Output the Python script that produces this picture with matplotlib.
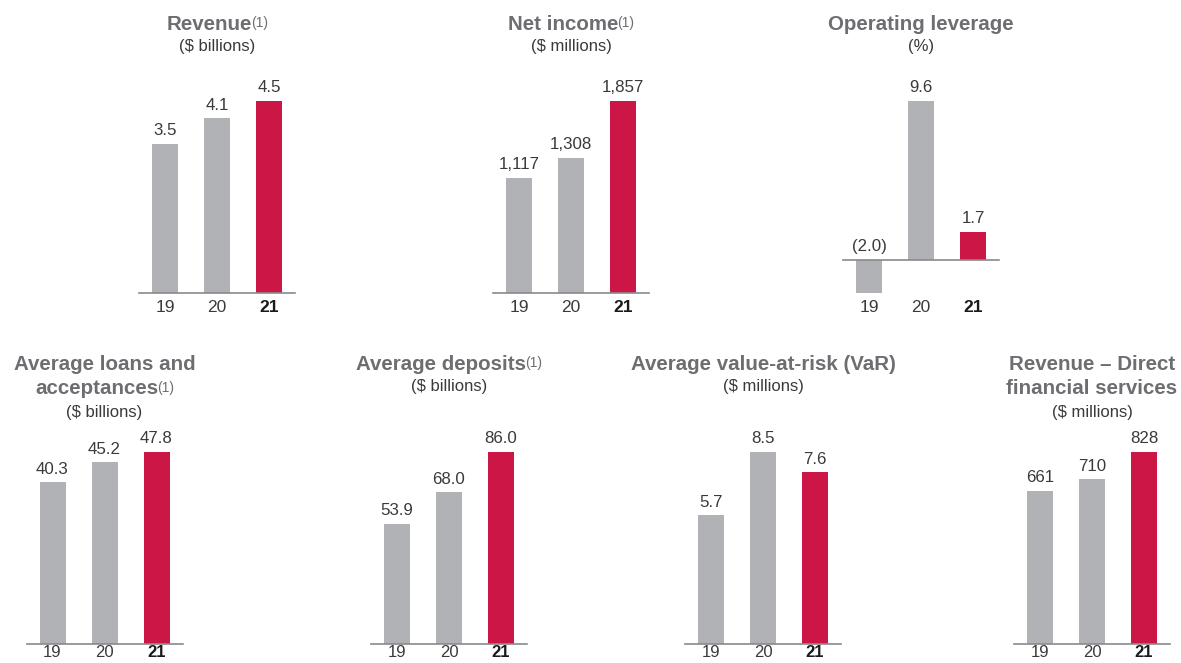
import matplotlib
matplotlib.use("Agg")
import matplotlib.pyplot as plt

plt.rcParams['font.family'] = ['Liberation Sans', 'DejaVu Sans']

W, H = 1181, 663

years = ['19', '20', '21']
revenue = [3.5, 4.1, 4.5]
net_income = [1117, 1308, 1857]
op_leverage = [-2.0, 9.6, 1.7]
avg_loans = [40.3, 45.2, 47.8]
avg_deposits = [53.9, 68.0, 86.0]
avg_var = [5.7, 8.5, 7.6]
dfs_revenue = [661, 710, 828]

GREY = '#b1b2b6'
RED = '#cc1646'
TITLE_C = '#6d6e71'
TEXT_C = '#3a3a3c'


def fmt1(v):
	return '(%.1f)' % abs(v) if v < 0 else '%.1f' % v


def fmt0(v):
	return '{:,.0f}'.format(v)


fig = plt.figure(figsize=(W / 100, H / 100), dpi=100)
renderer = fig.canvas.get_renderer()


def title_line(xc, y, text, note=None):
	# y is the visual centre of the capitals, in pixels from the top
	base = y + 7.5
	t = fig.text(0, 1 - base / H, text, fontsize=14.8, fontweight='bold', color=TITLE_C,
		ha='left', va='baseline')
	w1 = t.get_window_extent(renderer).width
	w2 = 0
	n = None
	if note:
		n = fig.text(0, 1 - (base - 2.5) / H, note, fontsize=10, color=TITLE_C,
			ha='left', va='baseline')
		w2 = n.get_window_extent(renderer).width - 1
	x0 = xc - (w1 + w2) / 2
	t.set_x(x0 / W)
	if n is not None:
		n.set_x((x0 + w1 - 1) / W)


def sub_line(xc, y, text):
	fig.text(xc / W, 1 - y / H, text, fontsize=12, color=TEXT_C, ha='center', va='center')


def draw_chart(cx0, base_y, values, fmt, tick_pad=5, tick_size=12.5):
	left = cx0 - 26
	ax = fig.add_axes([left / W, (H - base_y) / H, 156 / W, 192 / H])
	lo = min(0, min(values))
	ax.set_ylim(lo, max(values))
	ax.set_xlim(-0.5, 2.5)
	colors = [GREY, GREY, RED]
	ax.bar(range(3), values, width=0.5, color=colors)
	ax.axhline(0, color='#8a8a8d', linewidth=1.2, clip_on=False)
	for i, v in enumerate(values):
		ax.annotate(fmt(v), (i, max(v, 0)), xytext=(0, 4), textcoords='offset points',
			ha='center', va='bottom', fontsize=12.2, color=TEXT_C, annotation_clip=False)
	for s in ax.spines.values():
		s.set_visible(False)
	ax.set_yticks([])
	ax.set_xticks(range(3))
	ax.set_xticklabels(years, fontsize=tick_size, color=TEXT_C)
	ax.get_xticklabels()[2].set_fontweight('bold')
	ax.get_xticklabels()[2].set_color('#1a1a1a')
	ax.tick_params(axis='x', length=0, pad=tick_pad)
	ax.patch.set_alpha(0)
	return ax


# top row
draw_chart(165, 293, revenue, fmt1)
title_line(217, 22, 'Revenue', '(1)')
sub_line(217, 47, '($ billions)')

draw_chart(519, 293, net_income, fmt0)
title_line(571, 22, 'Net income', '(1)')
sub_line(571, 47, '($ millions)')

draw_chart(869, 293, op_leverage, fmt1)
title_line(921, 22, 'Operating leverage')
sub_line(921, 47, '(%)')

# bottom row - labels sit right at the lower edge, keep them inside
draw_chart(52.5, 644, avg_loans, fmt1, tick_pad=0.5, tick_size=12)
title_line(104.5, 362, 'Average loans and')
title_line(104.5, 387, 'acceptances', '(1)')
sub_line(104.5, 412, '($ billions)')

draw_chart(397, 644, avg_deposits, fmt1, tick_pad=0.5, tick_size=12)
title_line(449, 362, 'Average deposits', '(1)')
sub_line(449, 387, '($ billions)')

draw_chart(711, 644, avg_var, fmt1, tick_pad=0.5, tick_size=12)
title_line(763, 362, 'Average value-at-risk (VaR)')
sub_line(763, 387, '($ millions)')

draw_chart(1040, 644, dfs_revenue, fmt0, tick_pad=0.5, tick_size=12)
title_line(1092, 362, 'Revenue \u2013 Direct')
title_line(1092, 387, 'financial services')
sub_line(1092, 412, '($ millions)')

fig.savefig('out.png', dpi=100)
